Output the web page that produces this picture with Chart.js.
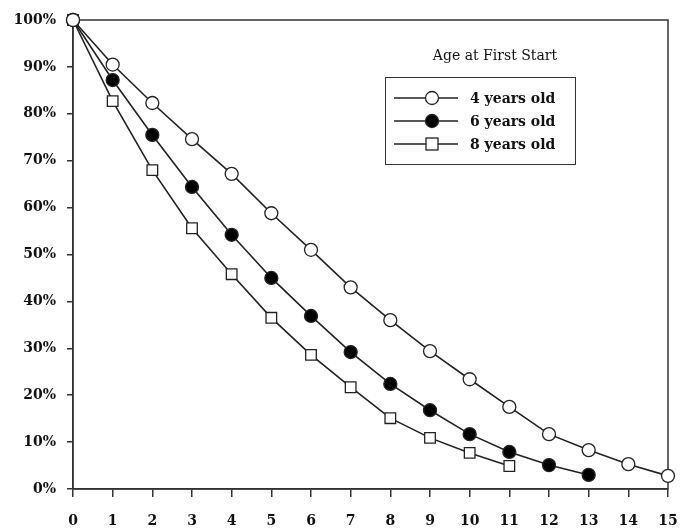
<!DOCTYPE html>
<html>
<head>
<meta charset="utf-8">
<script src="https://cdn.jsdelivr.net/npm/chart.js@4/dist/chart.umd.min.js"></script>
<style>
  html, body { margin: 0; padding: 0; background: #fff; }
  #wrap { position: relative; width: 680px; height: 532px; }
  #legendTitle {
    position: absolute; left: 395px; top: 47px; width: 200px; text-align: center;
    font-family: "DejaVu Serif", serif; font-size: 14px; color: #111;
  }
  #legend {
    position: absolute; left: 385px; top: 77px; width: 189px; height: 86px;
    border: 1.5px solid #333; box-sizing: content-box;
    font-family: "DejaVu Serif", serif; font-weight: bold; font-size: 14px; color: #111;
  }
  .item { position: absolute; left: 8px; height: 20px; display: flex; align-items: center; }
  .item span { margin-left: 12px; }
</style>
</head>
<body>
<div id="wrap">
  <canvas id="chart" width="680" height="532"></canvas>
  <div id="legendTitle">Age at First Start</div>
  <div id="legend"></div>
</div>
<script>
// ------------------------------------------------------------
// Données
// ------------------------------------------------------------
const years     = [0, 1, 2, 3, 4, 5, 6, 7, 8, 9, 10, 11, 12, 13, 14, 15];
const age4      = [100, 90.5, 82.3, 74.6, 67.2, 58.8, 51.0, 43.0, 36.0, 29.4, 23.4, 17.5, 11.7, 8.3, 5.3, 2.8];
const age6      = [100, 87.2, 75.5, 64.4, 54.2, 45.0, 36.9, 29.2, 22.4, 16.8, 11.7, 7.9, 5.1, 3.0];
const age8      = [100, 82.7, 68.0, 55.6, 45.8, 36.5, 28.6, 21.7, 15.1, 10.9, 7.7, 4.9];
const seriesLabels = ['4 years old', '6 years old', '8 years old'];
const yTicks    = [0, 10, 20, 30, 40, 50, 60, 70, 80, 90, 100];

const INK = '#222';
const tickFont = { family: '"DejaVu Serif", serif', weight: 'bold', size: 14 };

function toPoints(vals) {
  return vals.map((v, i) => ({ x: years[i], y: v }));
}

const styles = [
  { pointStyle: 'circle', bg: '#fff', radius: 6.5 },
  { pointStyle: 'circle', bg: '#000', radius: 6.5 },
  { pointStyle: 'rect',   bg: '#fff', radius: 7.5 },
];

const datasets = [age4, age6, age8].map((vals, i) => ({
  label:                seriesLabels[i],
  data:                 toPoints(vals),
  borderColor:          INK,
  borderWidth:          1.6,
  pointStyle:           styles[i].pointStyle,
  pointRadius:          styles[i].radius,
  pointBackgroundColor: styles[i].bg,
  pointBorderColor:     INK,
  pointBorderWidth:     1.3,
  tension:              0,
  clip:                 false,
}));

// Cadre autour de la zone de tracé
const framePlugin = {
  id: 'frame',
  beforeDatasetsDraw(chart) {
    const { ctx, chartArea: a } = chart;
    ctx.save();
    ctx.strokeStyle = '#333';
    ctx.lineWidth = 1.5;
    ctx.strokeRect(a.left, a.top, a.right - a.left, a.bottom - a.top);
    ctx.restore();
  },
};

new Chart(document.getElementById('chart'), {
  type: 'line',
  data: { datasets },
  options: {
    responsive: false,
    animation: false,
    layout: { padding: { top: 20, right: 0, left: 0, bottom: 0 } },
    plugins: { legend: { display: false }, tooltip: { enabled: false } },
    scales: {
      x: {
        type: 'linear', min: 0, max: 15,
        afterFit(scale) { scale.height = 43; scale.paddingRight = 12; },
        ticks: { stepSize: 1, color: '#111', font: tickFont, padding: 16 },
        grid: { drawOnChartArea: false, drawTicks: true, tickLength: 8, color: '#333', lineWidth: 1.5 },
        border: { color: '#333', width: 1.5 },
      },
      y: {
        min: 0, max: 100,
        afterFit(scale) { scale.width = 73; },
        afterBuildTicks(scale) { scale.ticks = yTicks.map((v) => ({ value: v })); },
        ticks: { color: '#111', font: tickFont, padding: 11, callback: (v) => v + '%' },
        grid: { drawOnChartArea: false, drawTicks: true, tickLength: 6, color: '#333', lineWidth: 1.5 },
        border: { color: '#333', width: 1.5 },
      },
    },
  },
  plugins: [framePlugin],
});

// ------------------------------------------------------------
// Légende HTML
// ------------------------------------------------------------
const legend = document.getElementById('legend');
datasets.forEach((ds, i) => {
  const s = styles[i];
  const marker = s.pointStyle === 'rect'
    ? '<rect x="32" y="4" width="12" height="12" fill="' + s.bg + '" stroke="#222" stroke-width="1.3"/>'
    : '<circle cx="38" cy="10" r="6.5" fill="' + s.bg + '" stroke="#222" stroke-width="1.3"/>';
  const el = document.createElement('div');
  el.className = 'item';
  el.style.top = (10 + i * 23) + 'px';
  el.innerHTML =
    '<svg width="64" height="20"><line x1="0" y1="10" x2="64" y2="10" stroke="#222" stroke-width="1.6"/>' +
    marker + '</svg><span>' + ds.label + '</span>';
  legend.appendChild(el);
});
</script>
</body>
</html>
